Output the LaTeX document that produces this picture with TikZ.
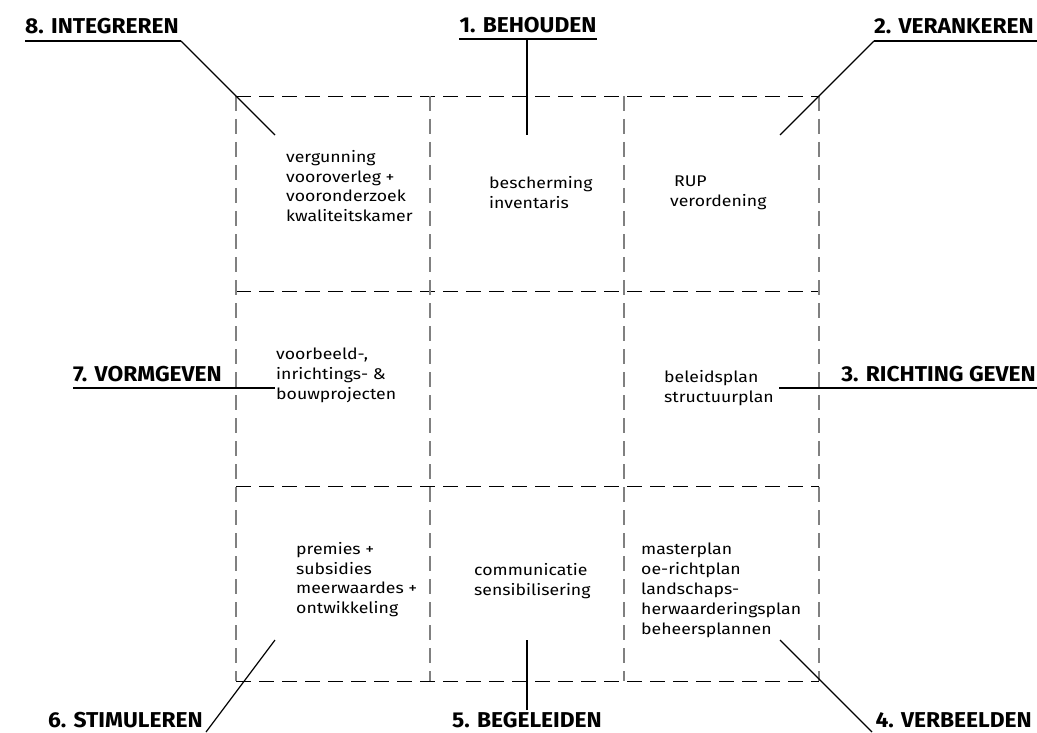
\documentclass[tikz,border=0pt]{standalone}
\usepackage{fontspec}
\setmainfont{Fira Sans}
\newfontfamily\cellfont[FakeStretch=1.14]{Fira Sans}
\newfontfamily\labfont[FakeStretch=1.06]{Fira Sans}
\usetikzlibrary{positioning}

\begin{document}
\begin{tikzpicture}[
  x=1pt, y=-1pt,
  lab/.style={font=\labfont\fontsize{21.5}{21.5}\selectfont\bfseries, inner sep=0pt, anchor=base west},
  cell/.style={font=\cellfont\fontsize{15.5}{19.8}\selectfont, inner sep=0pt, align=left, anchor=north west},
  hgrid/.style={black, line width=0.8pt, dash pattern=on 15pt off 8pt},
  vgrid/.style={black!50, line width=1.2pt, dash pattern=on 15pt off 8pt},
  leader/.style={black, line width=1.2pt},
  under/.style={black, line width=1.8pt}]
\useasboundingbox (0,0) rectangle (1037,733);

% grid
\foreach \y in {96,291,486,681}
  \draw[hgrid] (236,\y) -- (819,\y);
\foreach \x in {236,430,624,819}
  \draw[vgrid] (\x,96) -- (\x,681);

% texts in the cells
\node[cell] (t8) at (286,150) {vergunning\\vooroverleg +\\vooronderzoek\\kwaliteitskamer};
\node[cell] (t1) at (489,176) {bescherming\\inventaris};
\node[cell] (t2) at (670,176) {\hspace{4pt}RUP\\verordening};
\node[cell] (t7) at (276,348) {voorbeeld-,\\inrichtings- \&\\bouwprojecten};
\node[cell] (t3) at (664,370) {beleidsplan\\structuurplan};
\node[cell] (t6) at (296,542) {premies +\\subsidies\\meerwaardes +\\ontwikkeling};
\node[cell] (t5) at (474,563) {communicatie\\sensibilisering};
\node[cell] (t4) at (641,543) {masterplan\\oe-richtplan\\landschaps-\\herwaarderingsplan\\beheersplannen};

% labels
\node[lab] (l8) at (25,34) {8. INTEGREREN};
\node[lab, anchor=base] (l1) at (528,33) {1. BEHOUDEN};
\node[lab, anchor=base east] (l2) at (1034,34) {2. VERANKEREN};
\node[lab] (l7) at (73,381) {7. VORMGEVEN};
\node[lab, anchor=base east] (l3) at (1036,381) {3. RICHTING GEVEN};
\node[lab] (l6) at (48,727) {6. STIMULEREN};
\node[lab, anchor=base] (l5) at (527,727) {5. BEGELEIDEN};
\node[lab, anchor=base east] (l4) at (1032,727) {4. VERBEELDEN};

% leaders
\coordinate (k8) at (181,41);  \coordinate (e8) at (275,135);
\coordinate (k1) at (527,39);  \coordinate (e1) at (527,135);
\coordinate (k2) at (874,41);  \coordinate (e2) at (780,135);
\coordinate (k7) at (222,388); \coordinate (e7) at (275,388);
\coordinate (k3) at (842,388); \coordinate (e3) at (779,388);
\coordinate (k6) at (206,732); \coordinate (e6) at (275,640);
\coordinate (k5) at (527,710); \coordinate (e5) at (527,640);
\coordinate (k4) at (872,732); \coordinate (e4) at (780,640);

\draw[under] (25,41) -- (k8);
\draw[leader] (k8) -- (e8);
\draw[under] (459,39) -- (597,39);
\draw[leader] (k1) -- (e1);
\draw[under] (k2) -- (1037,41);
\draw[leader] (k2) -- (e2);
\draw[under] (73,388) -- (k7);
\draw[leader] (k7) -- (e7);
\draw[under] (k3) -- (1037,388);
\draw[leader] (k3) -- (e3);
\draw[leader] (k6) -- (e6);
\draw[leader] (k5) -- (e5);
\draw[leader] (k4) -- (e4);
\end{tikzpicture}
\end{document}
